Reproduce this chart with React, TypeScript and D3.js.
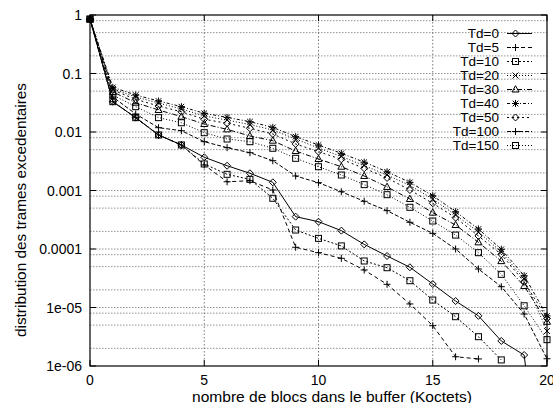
import React from "react";
import * as d3 from "d3";

const blocs = [0, 1, 2, 3, 4, 5, 6, 7, 8, 9, 10, 11, 12, 13, 14, 15, 16, 17, 18, 19, 20];
const seriesLabels = ["Td=0", "Td=5", "Td=10", "Td=20", "Td=30", "Td=40", "Td=50", "Td=100", "Td=150"];

const td0 = [0.85, 0.033, 0.0176, 0.0089, 0.006, 0.0037, 0.00265, 0.00197, 0.00138, 0.000357, 0.000293, 0.000206, 0.00012, 7.6e-5, 4.87e-5, 2.52e-5, 1.29e-5, 7.2e-6, 2.68e-6, 1.54e-6, 1e-9];
const td5 = [0.85, 0.033, 0.0176, 0.0089, 0.006, 0.00273, 0.00141, 0.00147, 0.00102, 0.000107, 8.65e-5, 6.93e-5, 4.38e-5, 2.49e-5, 1.15e-5, 4.89e-6, 1.44e-6, 1.32e-6, null, null, null];
const td10 = [0.85, 0.033, 0.0176, 0.0089, 0.006, 0.00284, 0.00189, 0.00155, 0.000736, 0.000211, 0.000152, 0.000113, 6.24e-5, 4.79e-5, 2.87e-5, 1.34e-5, 6.96e-6, 3.17e-6, 1.27e-6, null, null];
const td20 = [0.85, 0.0543, 0.0397, 0.0313, 0.0247, 0.0188, 0.016, 0.0134, 0.0108, 0.00759, 0.00532, 0.00381, 0.00267, 0.00184, 0.00122, 0.000716, 0.000381, 0.000195, 8.9e-5, 3.07e-5, 3.97e-6];
const td30 = [0.85, 0.0483, 0.0317, 0.0238, 0.0183, 0.0137, 0.0111, 0.00855, 0.0071, 0.00473, 0.00345, 0.00255, 0.00177, 0.00115, 0.000716, 0.000418, 0.000257, 0.00013, 6.2e-5, 2.33e-5, 5.7e-6];
const td40 = [0.85, 0.0581, 0.0429, 0.0339, 0.0271, 0.0209, 0.0178, 0.015, 0.012, 0.00832, 0.006, 0.00432, 0.00305, 0.00209, 0.00138, 0.000815, 0.000434, 0.00022, 9.9e-5, 3.5e-5, 7.2e-6];
const td50 = [0.85, 0.0522, 0.0362, 0.0278, 0.0222, 0.0165, 0.0141, 0.01157, 0.00925, 0.00624, 0.00461, 0.00341, 0.0024, 0.00164, 0.00102, 0.000604, 0.000343, 0.000167, 8.1e-5, 2.76e-5, 6.5e-6];
const td100 = [0.85, 0.0397, 0.0203, 0.01185, 0.01052, 0.00683, 0.0054, 0.00443, 0.00323, 0.00177, 0.00136, 0.000953, 0.000654, 0.000452, 0.000286, 0.000185, 0.0001, 4.55e-5, 2.27e-5, 7.74e-6, 1.33e-6];
const td150 = [0.85, 0.0429, 0.0271, 0.0176, 0.0144, 0.00973, 0.00759, 0.00683, 0.00527, 0.00355, 0.00255, 0.00184, 0.00126, 0.000848, 0.000516, 0.000301, 0.000173, 8.65e-5, 3.69e-5, 1.07e-5, 2.82e-6];

const xTicks = [0, 5, 10, 15, 20];
const yTicks = [1, 0.1, 0.01, 0.001, 0.0001, 1e-5, 1e-6];
const yTickLabels = ["1", "0.1", "0.01", "0.001", "0.0001", "1e-05", "1e-06"];
const yMinorFactors = [0.8, 0.5, 0.2];

const allSeries = [td0, td5, td10, td20, td30, td40, td50, td100, td150];
const styles = [
  { marker: "diamond", dash: "none" },
  { marker: "plus", dash: "4,3" },
  { marker: "square", dash: "2,2" },
  { marker: "cross", dash: "1,2" },
  { marker: "triangle", dash: "5,2,1,2" },
  { marker: "star", dash: "3,2,1,2" },
  { marker: "diamond", dash: "2,3" },
  { marker: "plus", dash: "4,2" },
  { marker: "square", dash: "1,2" },
];

const FONT = "'Liberation Sans', Arial, Helvetica, sans-serif";
const L = 90, R = 547, T = 15, B = 366;

const x = d3.scaleLinear().domain([0, 20]).range([L, R]);
const y = d3.scaleLog().domain([1e-6, 1]).range([B, T]);

function Marker({ type, cx, cy }: { type: string; cx: number; cy: number }) {
  const s = 3.5;
  const common = { stroke: "#000", strokeWidth: 1, fill: "none" };
  switch (type) {
    case "diamond":
      return <path d={`M${cx},${cy - s}L${cx + s},${cy}L${cx},${cy + s}L${cx - s},${cy}Z`} {...common} />;
    case "plus":
      return <path d={`M${cx - s},${cy}H${cx + s}M${cx},${cy - s}V${cy + s}`} {...common} />;
    case "square":
      return <rect x={cx - 3} y={cy - 3} width={6} height={6} {...common} />;
    case "cross":
      return <path d={`M${cx - 3},${cy - 3}L${cx + 3},${cy + 3}M${cx - 3},${cy + 3}L${cx + 3},${cy - 3}`} {...common} />;
    case "triangle":
      return <path d={`M${cx},${cy - 3.8}L${cx + 3.5},${cy + 2.5}L${cx - 3.5},${cy + 2.5}Z`} {...common} />;
    case "star":
      return (
        <path
          d={`M${cx - s},${cy}H${cx + s}M${cx},${cy - s}V${cy + s}M${cx - 2.8},${cy - 2.8}L${cx + 2.8},${cy + 2.8}M${cx - 2.8},${cy + 2.8}L${cx + 2.8},${cy - 2.8}`}
          {...common}
        />
      );
    default:
      return null;
  }
}

export default function App() {
  const line = d3
    .line<[number, number | null]>()
    .defined((d) => d[1] != null && (d[1] as number) > 0)
    .x((d) => x(d[0]))
    .y((d) => y(d[1] as number));

  const gridY: number[] = [];
  yTicks.forEach((t) => {
    if (t < 1 && t > 1e-6) gridY.push(t);
    if (t > 1e-6) yMinorFactors.forEach((f) => gridY.push(t * f));
  });

  return (
    <svg width={553} height={403} style={{ position: "absolute", left: 0, top: 0, background: "#fff" }} fontFamily={FONT}>
      <defs>
        <clipPath id="plotclip">
          <rect x={L} y={T} width={R - L} height={B - T} />
        </clipPath>
      </defs>
      <rect x={0} y={0} width={553} height={403} fill="#fff" />
      {/* grid */}
      {gridY.map((v, i) => (
        <line key={"gy" + i} x1={L} x2={R} y1={y(v)} y2={y(v)} stroke="#777" strokeWidth={0.8} strokeDasharray="1.5,1.5" />
      ))}
      {xTicks.filter((t) => t > 0 && t < 20).map((t) => (
        <line key={"gx" + t} x1={x(t)} x2={x(t)} y1={T} y2={B} stroke="#555" strokeWidth={0.8} strokeDasharray="1.5,2" />
      ))}
      {/* ticks */}
      {yTicks.map((t, i) => (
        <g key={"yt" + i}>
          <line x1={L} x2={L + 6} y1={y(t)} y2={y(t)} stroke="#000" />
          <line x1={R - 6} x2={R} y1={y(t)} y2={y(t)} stroke="#000" />
          <text x={82} y={y(t) + 5} textAnchor="end" fontSize={14}>
            {yTickLabels[i]}
          </text>
        </g>
      ))}
      {xTicks.map((t) => (
        <g key={"xt" + t}>
          <line x1={x(t)} x2={x(t)} y1={B} y2={B - 6} stroke="#000" />
          <line x1={x(t)} x2={x(t)} y1={T} y2={T + 6} stroke="#000" />
          <text x={x(t)} y={385} textAnchor="middle" fontSize={14}>
            {t}
          </text>
        </g>
      ))}
      {/* series lines */}
      <g clipPath="url(#plotclip)">
        {allSeries.map((vals, si) => {
          const pts = blocs.map((b, i) => [b, vals[i]] as [number, number | null]);
          return (
            <path
              key={"l" + si}
              d={line(pts) || ""}
              fill="none"
              stroke="#000"
              strokeWidth={1}
              strokeDasharray={styles[si].dash}
            />
          );
        })}
      </g>
      {allSeries.map((vals, si) => (
        <g key={"m" + si}>
          {blocs.map((b, i) => {
            const v = vals[i];
            if (v == null || v < 0.99e-6) return null;
            return <Marker key={i} type={styles[si].marker} cx={x(b)} cy={y(v)} />;
          })}
        </g>
      ))}
      {/* legend */}
      {seriesLabels.map((lab, i) => {
        const ly = 33.5 + i * 14;
        return (
          <g key={"lg" + i}>
            <text x={499} y={ly + 4.8} textAnchor="end" fontSize={13.5}>
              {lab}
            </text>
            <line x1={507} x2={532} y1={ly} y2={ly} stroke="#000" strokeWidth={1} strokeDasharray={styles[i].dash} />
            <Marker type={styles[i].marker} cx={515.5} cy={ly} />
          </g>
        );
      })}
      {/* border */}
      <rect x={L} y={T} width={R - L} height={B - T} fill="none" stroke="#000" strokeWidth={1.2} />
      {/* axis titles */}
      <text x={192} y={401.5} fontSize={15.5} textLength={280} lengthAdjust="spacingAndGlyphs">
        nombre de blocs dans le buffer (Koctets)
      </text>
      <text transform="translate(26,210) rotate(-90)" textAnchor="middle" fontSize={15.5} textLength={254} lengthAdjust="spacingAndGlyphs">
        distribution des trames excedentaires
      </text>
    </svg>
  );
}
